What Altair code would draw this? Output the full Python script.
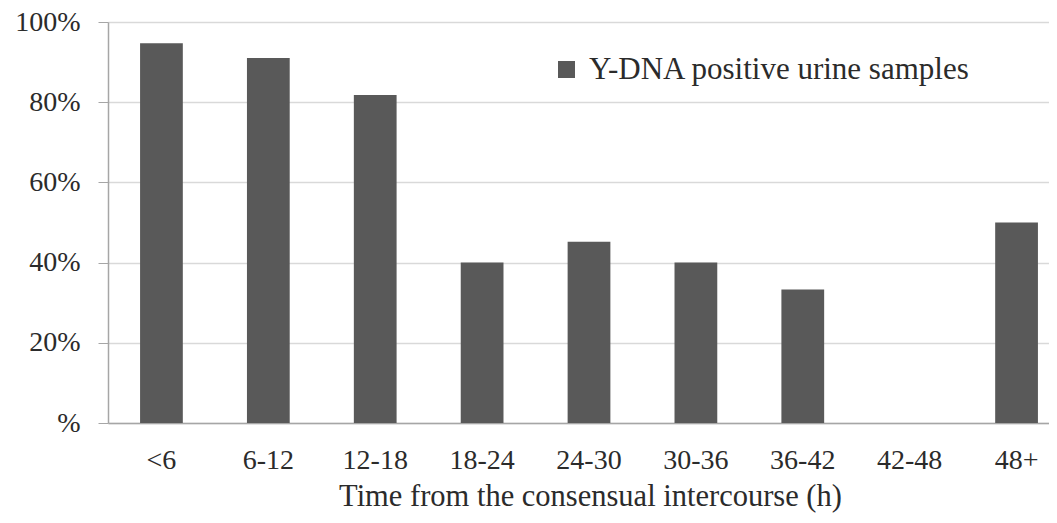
import altair as alt
import pandas as pd

categories = ["<6", "6-12", "12-18", "18-24", "24-30", "30-36", "36-42", "42-48", "48+"]
values = [0.947, 0.910, 0.818, 0.400, 0.452, 0.400, 0.333, 0.0, 0.500]
series_name = "Y-DNA positive urine samples"

df = pd.DataFrame({"time": categories, "share": values, "series": [series_name] * len(categories)})

FONT = "Liberation Serif"
TXT = "#2b2b2b"

chart = (
    alt.Chart(df)
    .mark_bar(strokeWidth=0)
    .encode(
        x=alt.X(
            "time:N",
            sort=categories,
            scale=alt.Scale(range=[0, 962], paddingInner=0.6, paddingOuter=0.3),
            axis=alt.Axis(
                title="Time from the consensual intercourse (h)",
                titleFont=FONT,
                titleFontSize=30.5,
                titleFontWeight="normal",
                titleColor=TXT,
                titleX=482,
                titlePadding=7,
                labelFont=FONT,
                labelFontSize=28,
                labelColor=TXT,
                labelAngle=0,
                labelPadding=23,
                ticks=False,
                domainColor="#a6a6a6",
                domainWidth=1.5,
                grid=False,
            ),
        ),
        y=alt.Y(
            "share:Q",
            scale=alt.Scale(domain=[0, 1], nice=False),
            axis=alt.Axis(
                title=None,
                values=[0, 0.2, 0.4, 0.6, 0.8, 1.0],
                labelExpr="datum.value == 0 ? '%' : round(datum.value * 100) + '%'",
                labelFont=FONT,
                labelFontSize=28,
                labelColor=TXT,
                labelPadding=18,
                tickSize=10,
                tickColor="#a6a6a6",
                domainColor="#a6a6a6",
                domainWidth=1.5,
                gridColor="#d9d9d9",
                gridWidth=1.5,
            ),
        ),
        color=alt.Color(
            "series:N",
            scale=alt.Scale(range=["#595959"]),
            legend=alt.Legend(
                title=None,
                orient="none",
                legendX=443,
                legendY=32,
                symbolType="square",
                symbolSize=289,
                symbolStrokeWidth=0,
                labelFont=FONT,
                labelFontSize=31,
                labelColor=TXT,
                labelOffset=7,
                labelLimit=600,
            ),
        ),
    )
    .properties(
        width=941,
        height=401,
        autosize=alt.AutoSizeParams(type="none"),
        padding={"left": 100, "top": 14, "right": 0, "bottom": 90},
    )
    .configure(background="white", font=FONT)
    .configure_view(stroke=None)
)

chart.save("out.html", embed_options={"renderer": "svg", "actions": False})
